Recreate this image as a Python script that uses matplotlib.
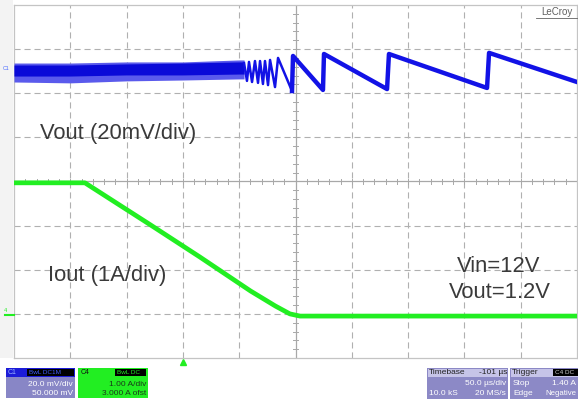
import matplotlib.pyplot as plt
from matplotlib.patches import Rectangle
from matplotlib.lines import Line2D

# Vout (C1): time in us, deviation from the C1 marker in mV
noise_t = [-250, -200, -150, -100, -50, -45.7]
noise_core_hi = [1.8, 1.8, 2.3, 2.7, 3.2, 3.2]
noise_core_lo = [-3.2, -3.2, -2.7, -2.7, -2.3, -2.3]
noise_outer_hi = [2.7, 2.7, 3.2, 3.2, 4.1, 4.1]
noise_outer_lo = [-5.9, -6.3, -5.4, -5.0, -4.5, -4.5]

tooth_peak_t = [-45.7, -41.3, -36.0, -31.5, -27.1, -22.6, -15.5, -2.2, 25.3, 83.0, 171.9]
tooth_peak_mv = [2.7, 3.2, 3.6, 3.6, 3.6, 4.1, 5.0, 5.9, 6.8, 6.8, 7.3]
tooth_trough_t = [-43.1, -38.6, -33.3, -28.9, -24.4, -18.2, -3.1, 24.4, 81.3, 170.1, 250]
tooth_trough_mv = [-5.4, -5.9, -6.3, -6.8, -7.3, -8.2, -10.0, -9.5, -9.1, -8.6, -5.9]

# Iout (C4): time in us, current in A
iout_t = [-250, -187, -129, -85, -40, -18, -5, 4, 250]
iout_a = [2.97, 2.97, 2.02, 1.29, 0.52, 0.18, 0.0, -0.05, -0.05]

trigger_t = -100

VOUT_MV_DIV = 20.0
IOUT_A_DIV = 1.0
C1_POS = 2.55   # divisions
C4_POS = -3.0

BLUE = '#1212e6'
GREEN = '#22ee22'
TXT = '#3a3a3a'
FONT = 'Liberation Sans'

W, H = 578, 403
fig = plt.figure(figsize=(W / 100, H / 100), dpi=100)


def fx(x):
    return x / W


def fy(y):
    return 1 - y / H


# light strip left of the screen
fig.add_artist(Rectangle((0, fy(358)), fx(13), 1 - fy(358), transform=fig.transFigure,
                         color='#f3f3f3', lw=0, zorder=0))

ax = fig.add_axes([fx(14), fy(358), fx(577) - fx(14), fy(5) - fy(358)])
ax.set_xlim(-250, 250)
ax.set_ylim(-4, 4)
ax.set_xticks([])
ax.set_yticks([])
for s in ax.spines.values():
    s.set_color('#c4c4c4')
    s.set_linewidth(0.9)

# graticule
for gx in range(-200, 250, 50):
    if gx == 0:
        ax.axvline(0, color='#a8a8a8', lw=0.9, zorder=1)
    else:
        ax.axvline(gx, color='#b0b0b0', lw=0.8, ls=(0, (5.5, 3.5)), zorder=1)
for gy in range(-3, 4):
    if gy == 0:
        ax.axhline(0, color='#a8a8a8', lw=0.9, zorder=1)
    else:
        ax.axhline(gy, color='#b0b0b0', lw=0.8, ls=(0, (5.5, 3.5)), zorder=1)
for k in range(-25, 26):
    ax.plot([k * 10, k * 10], [-0.06, 0.06], color='#a8a8a8', lw=0.7, zorder=1)
for k in range(-20, 21):
    ax.plot([-2.3, 2.3], [k * 0.2, k * 0.2], color='#a8a8a8', lw=0.7, zorder=1)

# Vout trace
def v2div(v):
    return [C1_POS + x / VOUT_MV_DIV for x in v]


ax.fill_between(noise_t, v2div(noise_outer_lo), v2div(noise_outer_hi), color='#5a5aec', lw=0, zorder=3)
ax.fill_between(noise_t, v2div(noise_core_lo), v2div(noise_core_hi), color='#0a0ad8', lw=0, zorder=3)

vt, vm = [], []
for i in range(len(tooth_peak_t)):
    vt += [tooth_peak_t[i], tooth_trough_t[i]]
    vm += [tooth_peak_mv[i], tooth_trough_mv[i]]
ax.plot(vt, v2div(vm), color=BLUE, lw=1.8, zorder=3)
big = [j for j in range(len(vt)) if vt[j] > -3.5]
ax.plot([vt[j] for j in big], v2div([vm[j] for j in big]), color=BLUE, lw=3.2, zorder=3)

# Iout trace
ax.plot(iout_t, [C4_POS + a / IOUT_A_DIV for a in iout_a], color=GREEN, lw=3.4, zorder=3)

# trigger marker
ax.plot([trigger_t], [-0.012], marker='^', color=GREEN, ms=5, mec=GREEN,
        transform=ax.get_xaxis_transform(), clip_on=False)

# channel markers
fig.text(fx(3), fy(68), 'C1', fontsize=3.8, color='#4a6aff', va='center', family=FONT)
fig.text(fx(4), fy(311), '4', fontsize=4, color=GREEN, va='center', family=FONT)
fig.add_artist(Line2D([fx(5), fx(14)], [fy(315), fy(315)], color=GREEN, lw=1.5, transform=fig.transFigure))

# annotations
fig.text(fx(40), fy(133), 'Vout (20mV/div)', fontsize=15.8, color=TXT, va='center', family=FONT)
fig.text(fx(48), fy(275), 'Iout (1A/div)', fontsize=15.8, color=TXT, va='center', family=FONT)
fig.text(fx(499), fy(267), 'Vin=12V', fontsize=15.8, color=TXT, va='center', ha='center', family=FONT)
fig.text(fx(500), fy(293), 'Vout=1.2V', fontsize=15.8, color=TXT, va='center', ha='center', family=FONT)

fig.text(fx(557), fy(12), 'LeCroy', fontsize=7, color='#606060', va='center', ha='center', family=FONT)
fig.add_artist(Line2D([fx(536), fx(577)], [fy(18), fy(18)], color='#606060', lw=0.6, transform=fig.transFigure))


# info boxes
def box(x0, y0, x1, y1, color, z=2):
    fig.add_artist(Rectangle((fx(x0), fy(y1)), fx(x1) - fx(x0), fy(y0) - fy(y1),
                             transform=fig.transFigure, color=color, lw=0, zorder=z))


def label(x, y, s, color, ha='left', size=6):
    fig.text(fx(x), fy(y), s, fontsize=size, color=color, ha=ha, va='center', family=FONT, zorder=5)


# C1
box(6, 368, 75, 398, '#8886c6')
box(6, 368, 75, 377, '#1c1cd8')
box(27, 369, 74, 376, '#000000', 3)
label(8, 372.5, 'C1', '#9ab4ff', size=5)
label(29, 372.5, 'BwL DC1M', '#3f5cff', size=4.6)
label(73, 384, '20.0 mV/div', 'white', 'right')
label(73, 393.5, '50.000 mV', 'white', 'right')

# C4
box(78, 368, 148, 398, '#22ee22')
box(115, 369, 146, 376, '#000000', 3)
label(81, 372.5, 'C4', '#111111', size=5)
label(117, 372.5, 'BwL DC', '#22ee22', size=4.6)
label(146, 384, '1.00 A/div', '#1a3a1a', 'right')
label(146, 393.5, '3.000 A ofst', '#1a3a1a', 'right')

# Timebase
box(427, 368, 508, 399, '#8c89c6')
box(428, 369, 507, 377, '#c6c4e8')
label(429, 373, 'Timebase', '#222222')
label(507, 373, '-101 \u00b5s', '#222222', 'right')
label(506, 383.5, '50.0 \u00b5s/div', 'white', 'right')
label(429, 393.5, '10.0 kS', 'white')
label(506, 393.5, '20 MS/s', 'white', 'right')

# Trigger
box(510, 368, 578, 399, '#8c89c6')
box(511, 369, 578, 377, '#c6c4e8')
box(553, 369, 578, 376, '#000000', 3)
label(512, 373, 'Trigger', '#222222')
label(555, 372.5, 'C4 DC', '#cccccc', size=4.6)
label(513, 383.5, 'Stop', 'white')
label(576, 383.5, '1.40 A', 'white', 'right')
label(513, 393.5, 'Edge', 'white')
label(576, 393.5, 'Negative', 'white', 'right', size=5.6)

fig.savefig('out.png', dpi=100)
